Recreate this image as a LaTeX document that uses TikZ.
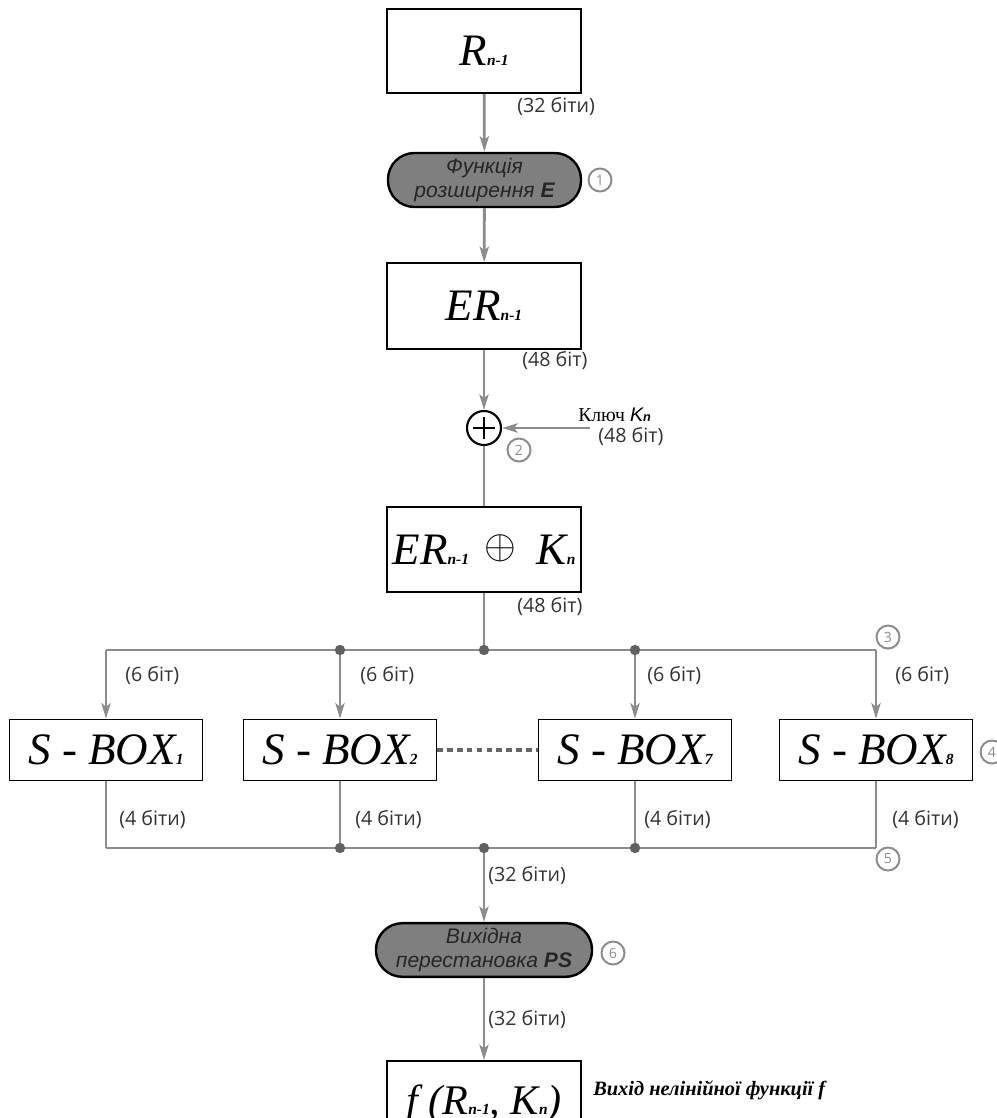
\documentclass[tikz,border=0pt]{standalone}
\usepackage{fontspec}
\setmainfont{Liberation Serif}
\newfontfamily\labelfont{Open Sans}
\newfontfamily\pillfont{Liberation Sans}
\usetikzlibrary{arrows.meta}
\definecolor{wiregray}{HTML}{8C8C8C}
\definecolor{pillgray}{HTML}{7F7F7F}
\definecolor{dotgray}{HTML}{606060}
\definecolor{textgray}{HTML}{333333}
\newcommand\lowidx[1]{{\fontsize{11}{11}\selectfont\bfseries\itshape #1}}
\newcommand\bigtxt{\fontsize{32}{36}\selectfont\itshape}

\begin{document}
\begin{tikzpicture}[x=0.025cm, y=-0.025cm,
    block/.style={draw, line width=1.1pt, minimum width=4.85cm, inner sep=0pt, font=\bigtxt},
    sbox/.style={block, minimum width=4.825cm, minimum height=1.525cm},
    pill/.style={draw, line width=1.7pt, fill=pillgray, rounded corners=0.66cm, minimum height=1.35cm,
        align=center, text=black!85, font=\pillfont\itshape\fontsize{15}{17.5}\selectfont},
    wire/.style={draw=wiregray, line width=2pt},
    arr/.style={wire, -{Stealth[length=11pt, width=6.5pt, inset=2.5pt]}},
    bits/.style={inner sep=0pt, anchor=west, text=textgray, font=\labelfont\fontsize{14}{14}\selectfont},
    stepmark/.style={circle, draw=wiregray, line width=1.4pt, minimum size=0.575cm, inner sep=0pt,
        text=wiregray, font=\labelfont\fontsize{10}{10}\selectfont},
    junction/.style={circle, fill=dotgray, minimum size=0.26cm, inner sep=0pt},
    xorop/.style={circle, draw, line width=1.5pt, minimum size=0.85cm, inner sep=0pt,
        path picture={\draw[line width=1.2pt]
            ([xshift=-0.28cm]path picture bounding box.center) -- ([xshift=0.28cm]path picture bounding box.center)
            ([yshift=-0.28cm]path picture bounding box.center) -- ([yshift=0.28cm]path picture bounding box.center);}},
    sboxlink/.style={draw=black!60, line width=2.2pt, dash pattern=on 4pt off 3pt}
]
\useasboundingbox (0,0) rectangle (997,1118);

\node[block, minimum height=2.1cm] (r) at (484,51) {R\lowidx{n-1}};
\node[pill, minimum width=4.825cm] (fe) at (484.5,180) {Функція\\розширення \textbf{E}};
\node[block, minimum height=2.15cm] (er) at (484,306) {ER\lowidx{n-1}};
\node[xorop] (xor) at (484,428) {};
\node[block, minimum height=2.125cm] (erk) at (484,549.5)
    {ER\lowidx{n-1}\hspace{0.35em}\raisebox{0.12em}{\scalebox{1.4}{\upshape\fontsize{20}{20}\selectfont$\oplus$}}\hspace{0.45em}K\lowidx{n}};

\node[sbox] (s1) at (106,750) {S - BOX\lowidx{1}};
\node[sbox] (s2) at (340,750) {S - BOX\lowidx{2}};
\node[sbox] (s7) at (635,750) {S - BOX\lowidx{7}};
\node[sbox] (s8) at (876,750) {S - BOX\lowidx{8}};

\node[pill, minimum width=5.4cm, minimum height=1.325cm] (ps) at (484,950) {Вихідна\\перестановка \textbf{PS}};
\node[block, minimum width=4.85cm, minimum height=2.15cm, font=\fontsize{30}{34}\selectfont\itshape] (fout) at (484,1104)
    {f (R\lowidx{n-1}, K\lowidx{n})};

\coordinate (kin) at (590,428);
\coordinate (tl) at (106,650);
\coordinate (t2) at (340,650);
\coordinate (t3) at (484,650);
\coordinate (t4) at (635,650);
\coordinate (tr) at (876,650);
\coordinate (bl) at (106,848);
\coordinate (b2) at (340,848);
\coordinate (b3) at (484,848);
\coordinate (b4) at (635,848);
\coordinate (br) at (876,848);

\draw[arr] (r) -- (fe);
\draw[arr] (fe) -- (er);
\draw[arr] (er) -- (xor);
\draw[arr] (kin) -- (xor);
\draw[wire] (xor) -- (erk);
\draw[wire] (erk) -- (t3);
\draw[wire] (tl) -- (tr);
\draw[wire] (bl) -- (br);
\foreach \c/\s/\d in {tl/s1/bl, t2/s2/b2, t4/s7/b4, tr/s8/br} {
    \draw[arr] (\c) -- (\s.north);
    \draw[wire] (\s.south) -- (\d);
}
\draw[sboxlink] (s2) -- (s7);
\draw[arr] (b3) -- (ps);
\draw[arr] (ps) -- (fout);
\foreach \j in {t2,t3,t4,b2,b3,b4}
    \node[junction] (dot\j) at (\j) {};

\node[stepmark] (m1) at (600,180) {1};
\node[stepmark] (m2) at (519,450) {2};
\node[stepmark] (m3) at (888,637) {3};
\node[stepmark] (m4) at (992,752) {4};
\node[stepmark] (m5) at (888,859) {5};
\node[stepmark] (m6) at (613,953) {6};

\node[bits] (w1) at (517,107) {(32 біти)};
\node[bits] (w2) at (522,361) {(48 біт)};
\node[inner sep=0pt, anchor=west, font=\fontsize{14}{14}\selectfont] (key) at (578,415)
    {Ключ {\pillfont\itshape K}{\pillfont\itshape\bfseries\fontsize{9}{9}\selectfont n}};
\node[bits] (w3) at (598,437) {(48 біт)};
\node[bits] (w4) at (517,607) {(48 біт)};
\foreach \x/\n in {125/a, 360/b, 647/c, 895/d}
    \node[bits] (six\n) at (\x,676) {(6 біт)};
\foreach \x/\n in {119/a, 355/b, 644/c, 892/d}
    \node[bits] (four\n) at (\x,820) {(4 біти)};
\node[bits] (w5) at (488,876) {(32 біти)};
\node[bits] (w6) at (488,1020) {(32 біти)};
\node[inner sep=0pt, anchor=west, font=\bfseries\itshape\fontsize{14.5}{15}\selectfont] (fnote) at (593,1090)
    {Вихід нелінійної функції f};
\end{tikzpicture}
\end{document}
